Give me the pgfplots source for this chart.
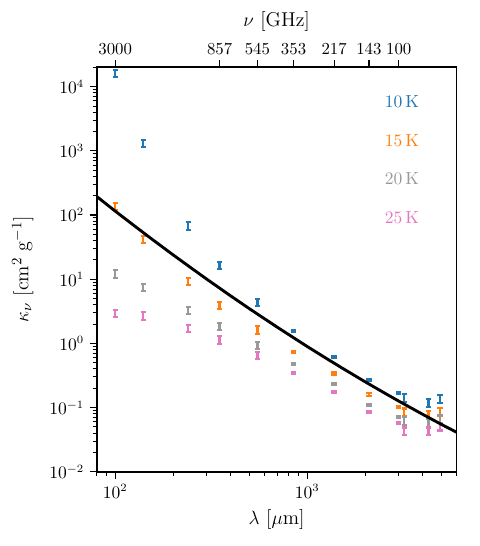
\documentclass[border=0pt]{standalone}
\usepackage{pgfplots}
\pgfplotsset{compat=1.18}
\usepackage{pgfplotstable}

\definecolor{c10}{HTML}{1F77B4}
\definecolor{c15}{HTML}{FF7F0E}
\definecolor{c20}{HTML}{999999}
\definecolor{c25}{HTML}{E377C2}

% wavelength [micron], opacity [cm^2/g], 1-sigma error
\pgfplotstableread{
x     y       e
100   16000   2080
140   1300    169
240   68      8.84
350   16.4    2.13
550   4.35    0.566
850   1.57    0.063
1380  0.62    0.0248
2100  0.27    0.0108
3000  0.168   0.0067
3200  0.143   0.020
4280  0.12    0.0168
4920  0.137   0.0192
}\tenK
\pgfplotstableread{
x     y       e
100   137     17.8
140   42.4    5.5
240   9.24    1.2
350   3.96    0.515
550   1.63    0.212
850   0.74    0.0296
1380  0.339   0.0136
2100  0.16    0.0064
3000  0.101   0.0040
3200  0.085   0.0119
4280  0.077   0.0108
4920  0.087   0.0122
}\fifteenK
\pgfplotstableread{
x     y       e
100   12.2    1.59
140   7.55    0.98
240   3.31    0.43
350   1.84    0.239
550   0.94    0.122
850   0.475   0.0190
1380  0.232   0.0093
2100  0.111   0.0044
3000  0.072   0.0029
3200  0.063   0.0088
4280  0.058   0.0081
4920  0.067   0.0094
}\twentyK
\pgfplotstableread{
x     y       e
100   2.97    0.386
140   2.7     0.351
240   1.73    0.225
350   1.14    0.148
550   0.647   0.084
850   0.344   0.0138
1380  0.174   0.0070
2100  0.086   0.0034
3000  0.057   0.0023
3200  0.043   0.006
4280  0.043   0.006
4920  0.051   0.0071
}\twentyfiveK
% model opacity curve
\pgfplotstableread{
x     y
80    195
100   115
120   75.7
150   45.5
200   24.0
250   14.8
300   10.0
400   5.48
500   3.47
700   1.78
850   1.224
1000  0.895
1200  0.637
1500  0.423
2000  0.253
2500  0.172
3000  0.126
4000  0.0784
5000  0.0547
6000  0.0413
}\model

\tikzset{
  ticklab/.style={font=\fontsize{10.5}{12}\selectfont},
}
\pgfplotsset{
  kbars/.style={draw=none, mark=none,
    error bars/.cd, y dir=both, y explicit,
    error bar style={draw=#1, line width=1.5pt},
    error mark options={rotate=90, mark size=1.6pt, line width=1.3pt, draw=#1}},
}

\begin{document}
\begin{tikzpicture}
\begin{axis}[
  name=main,
  scale only axis, width=225pt, height=252.8pt,
  xmode=log, ymode=log,
  xmin=80, xmax=6000, ymin=1e-2, ymax=2e4,
  axis line style={line width=1.1pt},
  tick align=outside,
  xtick pos=bottom, ytick pos=left,
  xtick={100,1000},
  ytick={1e-2,1e-1,1,10,100,1000,10000},
  minor xtick={80,90,200,300,400,500,600,700,800,900,2000,3000,4000,5000,6000},
  minor ytick={0.02,0.03,0.04,0.05,0.06,0.07,0.08,0.09,
               0.2,0.3,0.4,0.5,0.6,0.7,0.8,0.9,
               2,3,4,5,6,7,8,9,20,30,40,50,60,70,80,90,
               200,300,400,500,600,700,800,900,
               2000,3000,4000,5000,6000,7000,8000,9000,20000},
  major tick length=4.4pt, minor tick length=2.5pt,
  every major tick/.append style={line width=0.8pt, black},
  every minor tick/.append style={line width=0.6pt, black},
  tick label style={font=\fontsize{10.5}{12}\selectfont},
  label style={font=\fontsize{12.5}{15}\selectfont},
  xlabel={$\lambda$ [$\mu$m]},
  ylabel={$\kappa_\nu$ [cm$^2$ g$^{-1}$]},
  ylabel shift=3pt,
  clip=true,
]
\addplot[kbars=c10] table[x=x, y=y, y error=e] {\tenK};
\addplot[kbars=c15] table[x=x, y=y, y error=e] {\fifteenK};
\addplot[kbars=c20] table[x=x, y=y, y error=e] {\twentyK};
\addplot[kbars=c25] table[x=x, y=y, y error=e] {\twentyfiveK};
\addplot[black, line width=1.8pt, mark=none] table[x=x, y=y] {\model};

\node[anchor=west, text=c10, ticklab] at (axis description cs:0.785,0.915) {$10\,\mathrm{K}$};
\node[anchor=west, text=c15, ticklab] at (axis description cs:0.785,0.820) {$15\,\mathrm{K}$};
\node[anchor=west, text=c20, ticklab] at (axis description cs:0.785,0.724) {$20\,\mathrm{K}$};
\node[anchor=west, text=c25, ticklab] at (axis description cs:0.785,0.629) {$25\,\mathrm{K}$};
\end{axis}

% frequency scale along the top edge
\begin{axis}[
  at={(main.south west)}, anchor=south west,
  scale only axis, width=225pt, height=252.8pt,
  xmode=log, ymode=log,
  xmin=80, xmax=6000, ymin=1e-2, ymax=2e4,
  axis x line*=top, axis y line=none,
  axis line style={draw=none},
  tick align=outside,
  xtick={99.93,349.8,550.1,849.3,1381.5,2096.4,2997.9},
  xticklabels={3000,857,545,353,217,143,100},
  xminorticks=false,
  major tick length=4.4pt,
  every major tick/.append style={line width=0.8pt, black},
  tick label style={font=\fontsize{10.5}{12}\selectfont},
  label style={font=\fontsize{12.5}{15}\selectfont},
  xlabel={$\nu$ [GHz]},
]
\end{axis}

\pgfresetboundingbox
\useasboundingbox ([xshift=-60.4pt,yshift=-46.4pt]main.south west)
  rectangle ([xshift=14.6pt,yshift=42.1pt]main.north east);
\end{tikzpicture}
\end{document}
